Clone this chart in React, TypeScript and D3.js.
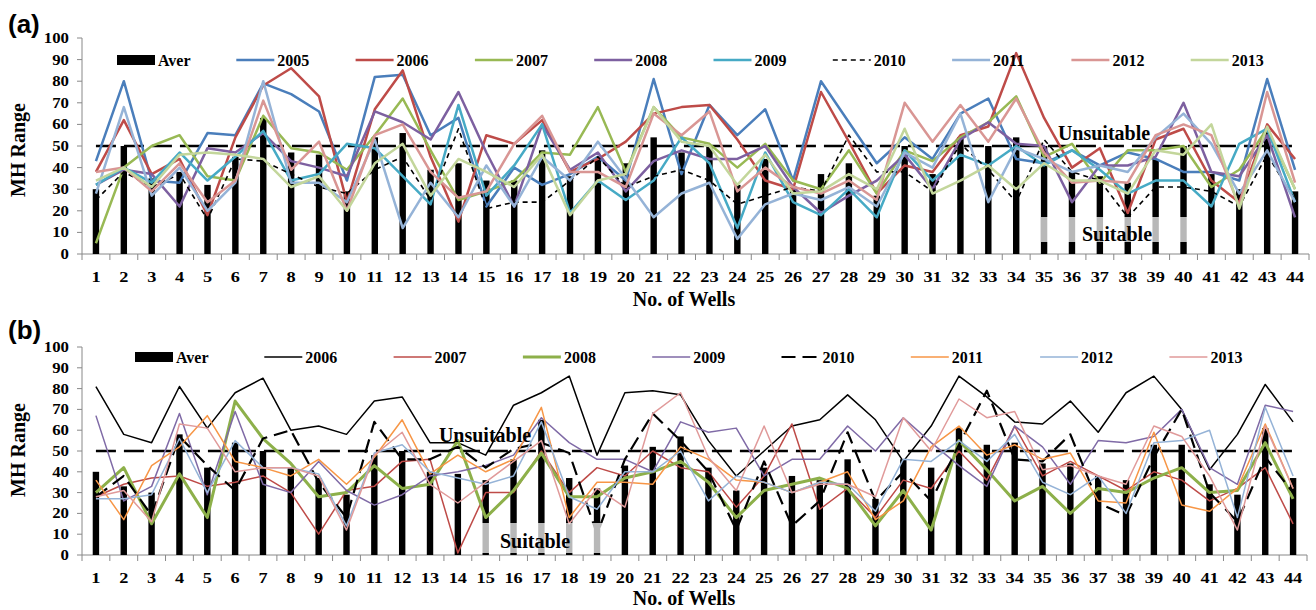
import React from 'react';
import * as d3 from 'd3';

const wells = ['1','2','3','4','5','6','7','8','9','10','11','12','13','14','15','16','17','18','19','20','21','22','23','24','25','26','27','28','29','30','31','32','33','34','35','36','37','38','39','40','41','42','43','44'];
const yTicks = [0, 10, 20, 30, 40, 50, 60, 70, 80, 90, 100];
const threshold = 50;

// Panel (a)
const aAver = [30,50,35,38,32,45,63,47,46,29,54,56,39,42,34,34,48,36,44,42,54,47,50,32,44,30,37,42,27,50,37,54,50,54,50,38,36,33,44,50,37,30,57,29];
const a2005 = [43,80,34,33,56,55,79,74,66,34,82,83,55,63,22,40,32,37,45,34,81,37,69,55,67,34,80,61,42,54,44,65,72,44,42,48,41,47,44,38,38,34,81,39];
const a2006 = [38,62,37,44,18,54,78,86,73,24,67,85,45,15,55,51,62,38,44,52,65,68,69,53,34,30,75,52,28,41,38,55,59,93,63,40,49,19,53,58,34,24,60,44];
const a2007 = [5,40,50,55,36,34,64,49,47,39,55,72,48,25,29,34,47,46,68,38,68,54,51,40,51,34,30,48,28,48,43,54,61,73,45,51,33,48,48,50,31,39,58,30];
const a2008 = [32,39,37,22,49,47,56,43,40,36,66,61,53,75,47,22,60,39,47,29,43,48,44,44,50,31,19,27,34,46,30,53,61,51,50,24,41,41,45,70,38,36,55,17];
const a2009 = [32,40,33,47,34,45,57,34,37,51,49,36,23,69,27,41,60,19,34,25,34,54,42,12,47,24,18,30,17,48,34,46,41,50,41,48,39,28,34,34,22,51,58,24];
const a2010 = [25,38,31,37,16,44,43,37,31,28,39,45,25,58,21,24,24,34,45,31,36,39,34,23,27,31,29,55,38,38,29,51,39,24,53,38,34,17,31,31,29,22,46,25];
const a2011 = [28,68,27,40,20,33,80,33,33,24,53,12,33,17,41,22,45,34,52,35,17,28,33,7,23,28,25,31,22,47,40,65,24,49,44,38,41,38,54,65,51,28,48,24];
const a2012 = [38,40,29,42,24,34,71,39,52,20,55,60,38,26,29,51,64,38,38,31,65,55,66,29,40,31,28,34,25,70,52,69,52,72,47,33,34,33,55,60,55,22,75,33];
const a2013 = [34,40,31,46,47,46,44,31,36,20,42,51,27,44,38,31,46,18,34,37,68,52,50,32,46,28,29,37,30,58,28,34,41,30,42,34,34,28,48,46,60,21,59,30];

// Panel (b)
const bAver = [40,33,30,58,42,54,50,42,37,29,48,50,40,39,36,46,65,37,32,43,52,57,42,31,42,38,36,46,27,46,42,61,53,54,44,44,38,36,53,53,34,29,61,37];
const b2006 = [81,58,54,81,61,78,85,60,62,58,74,76,54,54,48,72,78,86,48,78,79,77,55,38,50,62,65,77,65,45,62,86,76,64,63,74,59,78,86,70,41,58,82,64];
const b2007 = [28,34,37,38,33,35,38,30,10,31,33,45,46,1,30,30,50,30,42,38,50,42,40,23,38,63,22,32,18,36,32,50,36,62,38,45,38,31,40,36,26,32,42,15];
const b2008 = [30,42,15,39,18,74,56,44,28,30,43,32,34,55,18,31,49,28,28,37,40,45,35,18,31,34,37,32,14,31,12,55,41,26,33,20,32,30,37,42,30,31,54,27];
const b2009 = [67,26,33,68,29,69,34,30,45,31,24,29,38,40,43,48,66,54,46,46,40,64,59,61,38,46,46,62,50,66,54,43,33,62,52,34,55,54,57,70,42,34,72,69];
const b2010 = [28,38,19,57,43,31,56,60,35,18,64,46,46,52,42,51,54,49,10,46,68,55,40,12,45,14,26,59,26,40,26,53,79,46,45,58,25,19,47,70,30,16,47,30];
const b2011 = [36,17,43,52,67,45,42,38,46,34,47,65,39,48,40,46,71,18,35,35,34,52,46,36,35,30,35,40,17,26,52,62,48,53,46,49,26,25,59,24,21,32,63,32];
const b2012 = [27,27,29,56,30,55,42,42,39,14,49,53,40,37,34,38,64,28,22,40,40,50,26,38,35,30,35,34,21,46,45,55,45,58,35,29,38,20,54,55,60,18,71,38];
const b2013 = [28,31,16,63,61,40,42,42,38,12,48,59,34,25,35,45,55,15,32,23,68,78,47,31,62,30,34,34,28,66,50,75,66,69,41,43,38,34,62,57,38,12,62,32];

const serif = "'Liberation Serif','Times New Roman',serif";
const sans = "'Liberation Sans',Arial,sans-serif";

type Series = { name: string; values: number[]; color: string; width: number; dash?: string };

const aSeries: Series[] = [
  { name: '2005', values: a2005, color: '#4a7ebb', width: 2.5 },
  { name: '2006', values: a2006, color: '#be4b48', width: 2.5 },
  { name: '2007', values: a2007, color: '#98b954', width: 2.5 },
  { name: '2008', values: a2008, color: '#7d60a0', width: 2.5 },
  { name: '2009', values: a2009, color: '#46aac5', width: 2.5 },
  { name: '2010', values: a2010, color: '#000000', width: 1.6, dash: '5,4' },
  { name: '2011', values: a2011, color: '#95b3d7', width: 2.5 },
  { name: '2012', values: a2012, color: '#d99694', width: 2.5 },
  { name: '2013', values: a2013, color: '#c3d69b', width: 2.5 },
];

const bSeries: Series[] = [
  { name: '2006', values: b2006, color: '#000000', width: 1.5 },
  { name: '2007', values: b2007, color: '#be4b48', width: 1.5 },
  { name: '2008', values: b2008, color: '#8db04a', width: 3 },
  { name: '2009', values: b2009, color: '#7f6aa6', width: 1.5 },
  { name: '2010', values: b2010, color: '#000000', width: 2.2, dash: '14,7' },
  { name: '2011', values: b2011, color: '#f79646', width: 1.5 },
  { name: '2012', values: b2012, color: '#95b3d7', width: 1.5 },
  { name: '2013', values: b2013, color: '#e09a9a', width: 1.5 },
];

type Cfg = {
  tag: string; aver: number[]; series: Series[];
  x0: number; x1: number; yTop: number; yBot: number;
  legY: number; legX0: number; legStep: number;
  tagY: number; titleY: number; ylabY: number;
  unsuit: [number, number]; suit: [number, number];
  box: [number, number, number, number];
};

const cfgA: Cfg = {
  tag: '(a)', aver: aAver, series: aSeries,
  x0: 82, x1: 1309, yTop: 38, yBot: 254,
  legY: 60, legX0: 117, legStep: 119.3,
  tagY: 33, titleY: 306, ylabY: 150,
  unsuit: [1104, 140], suit: [1117, 241],
  box: [1041, 217, 147, 25],
};
const cfgB: Cfg = {
  tag: '(b)', aver: bAver, series: bSeries,
  x0: 82, x1: 1307, yTop: 347, yBot: 555,
  legY: 357, legX0: 135, legStep: 129.3,
  tagY: 339, titleY: 605, ylabY: 450,
  unsuit: [485, 442], suit: [535, 548],
  box: [478, 523, 127, 30],
};

function Panel({ c }: { c: Cfg }) {
  const x = d3.scaleBand<string>().domain(wells).range([c.x0, c.x1]).paddingInner(0).paddingOuter(0);
  const y = d3.scaleLinear().domain([0, 100]).range([c.yBot, c.yTop]);
  const cx = (w: string) => (x(w) as number) + x.bandwidth() / 2;
  const line = d3.line<number>().x((_, i) => cx(wells[i])).y((v) => y(v));
  const bounds = d3.range(wells.length + 1).map((i) => c.x0 + i * x.step());
  const legItems = ['Aver', ...c.series.map((s) => s.name)];
  return (
    <g>
      <text x={8} y={c.tagY} fontFamily={sans} fontWeight="bold" fontSize={26}>{c.tag}</text>
      <text transform={`translate(25,${c.ylabY}) rotate(-90)`} textAnchor="middle" fontFamily={serif} fontWeight="bold" fontSize={20}>MH Range</text>
      {/* axes */}
      <line x1={c.x0} x2={c.x0} y1={c.yTop} y2={c.yBot} stroke="#888" strokeWidth={1} />
      <line x1={c.x0} x2={c.x1} y1={c.yBot} y2={c.yBot} stroke="#888" strokeWidth={1} />
      {yTicks.map((t) => (
        <g key={'yt' + t}>
          <line x1={c.x0 - 5} x2={c.x0} y1={y(t)} y2={y(t)} stroke="#888" />
          <text transform={`translate(69,${y(t) + 5}) scale(1.12,1)`} textAnchor="end" fontFamily={serif} fontWeight="bold" fontSize={15}>{t}</text>
        </g>
      ))}
      {bounds.map((b, i) => (
        <line key={'xt' + i} x1={b} x2={b} y1={c.yBot} y2={c.yBot + 6} stroke="#888" />
      ))}
      {wells.map((w) => (
        <text key={'xl' + w} transform={`translate(${cx(w)},${c.yBot + 28}) scale(1.22,1)`} textAnchor="middle" fontFamily={serif} fontWeight="bold" fontSize={15}>{w}</text>
      ))}
      <text x={684} y={c.titleY} textAnchor="middle" fontFamily={serif} fontWeight="bold" fontSize={20}>No. of Wells</text>
      {/* bars */}
      {c.aver.map((v, i) => (
        <rect key={'b' + i} x={cx(wells[i]) - 3.2} y={y(v)} width={6.4} height={c.yBot - y(v)} fill="#000" />
      ))}
      {/* threshold */}
      <line x1={cx(wells[0])} x2={cx(wells[wells.length - 1])} y1={y(threshold)} y2={y(threshold)} stroke="#000" strokeWidth={2.5} strokeDasharray="20,8" />
      {/* lines */}
      {c.series.map((s) => (
        <path key={s.name} d={line(s.values) || ''} fill="none" stroke={s.color} strokeWidth={s.width} strokeDasharray={s.dash} strokeLinejoin="round" />
      ))}
      <rect x={c.box[0]} y={c.box[1]} width={c.box[2]} height={c.box[3]} fill="#fff" opacity={0.72} />
      <text x={c.unsuit[0]} y={c.unsuit[1]} textAnchor="middle" fontFamily={serif} fontWeight="bold" fontSize={20}>Unsuitable</text>
      <text x={c.suit[0]} y={c.suit[1]} textAnchor="middle" fontFamily={serif} fontWeight="bold" fontSize={20}>Suitable</text>
      {/* legend */}
      {legItems.map((name, k) => {
        const lx = c.legX0 + k * c.legStep;
        const s = c.series.find((q) => q.name === name);
        return (
          <g key={'lg' + name}>
            {k === 0 ? (
              <rect x={lx} y={c.legY - 5} width={38} height={10} fill="#000" />
            ) : (
              <line x1={lx} x2={lx + 38} y1={c.legY} y2={c.legY} stroke={s!.color} strokeWidth={s!.width} strokeDasharray={s!.dash} />
            )}
            <text x={lx + 41} y={c.legY + 5.5} fontFamily={serif} fontWeight="bold" fontSize={16}>{name}</text>
          </g>
        );
      })}
    </g>
  );
}

export default function App() {
  return (
    <svg width={1316} height={610} style={{ position: 'absolute', left: 0, top: 0, background: '#fff' }}>
      <rect width={1316} height={610} fill="#fff" />
      <Panel c={cfgA} />
      <Panel c={cfgB} />
    </svg>
  );
}
